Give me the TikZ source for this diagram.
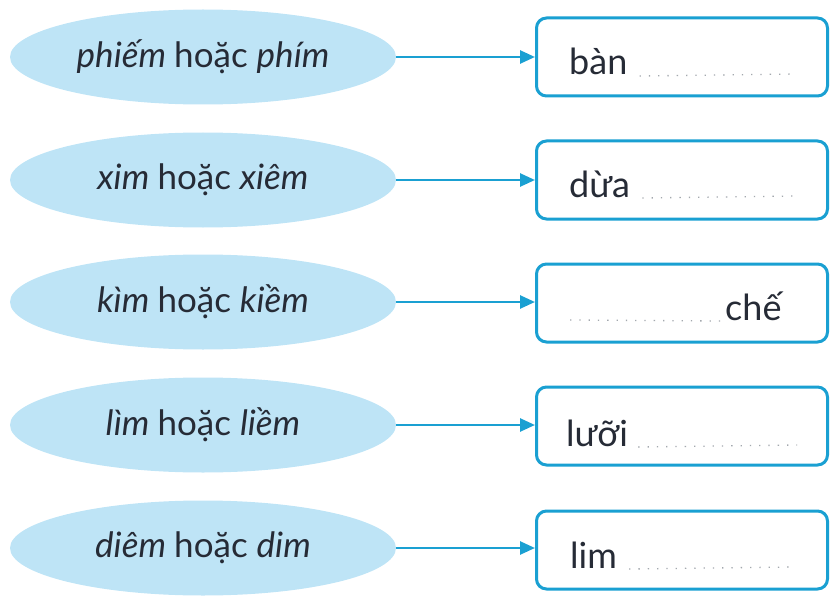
\documentclass[tikz,border=0pt]{standalone}
\usepackage{fontspec}
\setmainfont{Lato}
\usetikzlibrary{shapes.geometric,arrows.meta}
\definecolor{ellfill}{HTML}{BEE4F6}
\definecolor{edge}{HTML}{1AA0D2}
\definecolor{ink}{HTML}{262B36}
\definecolor{dotc}{HTML}{A3A8AE}
\tikzset{
  oval/.style={ellipse, fill=ellfill, draw=none, minimum width=386pt, minimum height=95pt, inner sep=0pt, text=ink, font=\fontsize{35}{40}\selectfont},
  slot/.style={rectangle, rounded corners=10pt, draw=edge, line width=3pt, fill=white, minimum width=291pt, minimum height=78pt, inner sep=0pt},
  word/.style={anchor=base west, inner sep=0pt, text=ink, font=\fontsize{36}{40}\selectfont},
  link/.style={draw=edge, line width=2.6pt, -{Triangle[length=15pt,width=13pt]}},
  dots/.style={draw=dotc, line width=1.3pt, dash pattern=on 1.3pt off 8pt}
}
\begin{document}
\begin{tikzpicture}[x=1pt,y=-1pt]
\useasboundingbox (0,0) rectangle (835,615);
% ovals
\node[oval] (e1) at (203,57) {\itshape phiếm \upshape hoặc \itshape phím};
\node[oval] (e2) at (203,180) {\itshape xim \upshape hoặc \itshape xiêm};
\node[oval] (e3) at (203,302) {\itshape kìm \upshape hoặc \itshape kiềm};
\node[oval] (e4) at (203,425) {\itshape lìm \upshape hoặc \itshape liềm};
\node[oval] (e5) at (203,548) {\itshape diêm \upshape hoặc \itshape dim};
% boxes
\node[slot] (b1) at (682,57) {};
\node[slot] (b2) at (682,180) {};
\node[slot] (b3) at (682,303) {};
\node[slot] (b4) at (682,426) {};
\node[slot] (b5) at (682,550) {};
% arrows
\draw[link] (e1.east) -- (e1.east -| b1.west);
\draw[link] (e2.east) -- (e2.east -| b2.west);
\draw[link] (e3.east) -- (e3.east -| b3.west);
\draw[link] (e4.east) -- (e4.east -| b4.west);
\draw[link] (e5.east) -- (e5.east -| b5.west);
% texts in boxes
\node[word] (t1) at (569,75) {bàn};
\coordinate (d1) at (797,74);
\draw[dots] ([xshift=12pt,yshift=-1pt]t1.base east) -- (d1);
\node[word] (t2) at (569,197) {dừa};
\coordinate (d2) at (797,196);
\draw[dots] ([xshift=12pt,yshift=-1pt]t2.base east) -- (d2);
\coordinate (d3) at (570,320);
\node[word] (t3) at (725,320) {chế};
\draw[dots] (d3) -- ([xshift=-4pt,yshift=-1pt]t3.base west);
\node[word] (t4) at (566,446) {lưỡi};
\coordinate (d4) at (797,445);
\draw[dots] ([xshift=10pt,yshift=-1pt]t4.base east) -- (d4);
\node[word] (t5) at (570,568) {lim};
\coordinate (d5) at (792,567);
\draw[dots] ([xshift=12pt,yshift=-1pt]t5.base east) -- (d5);
\end{tikzpicture}
\end{document}
